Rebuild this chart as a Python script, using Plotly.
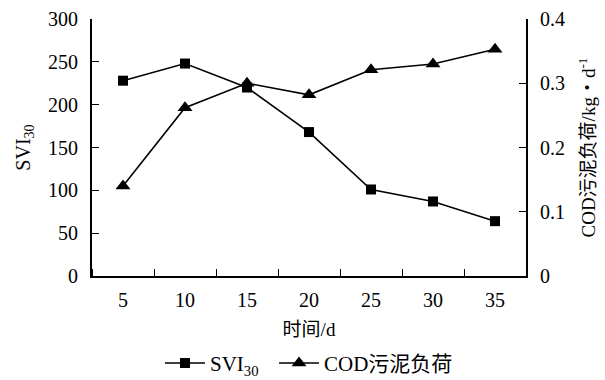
import plotly.graph_objects as go

# 运行时间 (d)
days = [5, 10, 15, 20, 25, 30, 35]
# 污泥体积指数 SVI30
svi30 = [228, 248, 220, 168, 101, 87, 64]
# COD污泥负荷 (kg·d^-1)
cod_load = [0.14, 0.262, 0.30, 0.282, 0.321, 0.330, 0.353]

left_ticks = [0, 50, 100, 150, 200, 250, 300]
right_ticks = [0, 0.1, 0.2, 0.3, 0.4]
right_labels = ["0", "0.1", "0.2", "0.3", "0.4"]

serif = "Liberation Serif, Times New Roman, Noto Sans CJK SC, serif"
cjk = "Liberation Serif, Noto Sans CJK SC, serif"
FS = 20

fig = go.Figure()
fig.add_trace(go.Scatter(
    x=days, y=svi30, name="SVI<sub>30</sub>\u00a0\u00a0", mode="lines+markers",
    line=dict(color="black", width=1.6),
    marker=dict(symbol="square", size=10, color="black"),
))
fig.add_trace(go.Scatter(
    x=days, y=cod_load, name="COD污泥负荷", mode="lines+markers", yaxis="y2",
    line=dict(color="black", width=1.6),
    marker=dict(symbol="triangle-up", size=13, color="black"),
))

fig.update_layout(
    width=605, height=380,
    margin=dict(l=92, r=79, t=19, b=104, autoexpand=False),
    paper_bgcolor="white", plot_bgcolor="white",
    font=dict(family=serif, size=FS, color="black"),
    showlegend=True,
    legend=dict(orientation="h", x=0.5, xanchor="center", y=-0.34, yanchor="middle",
                font=dict(family=cjk, size=21), itemwidth=40,
                bgcolor="rgba(0,0,0,0)"),
    xaxis=dict(
        range=[2.5, 37.5], tickvals=days, ticktext=[str(d) for d in days],
        ticks="", showline=True, linecolor="black", linewidth=2, showgrid=False,
        zeroline=False, mirror=False, automargin=False,
        minor=dict(tick0=2.5, dtick=5, ticks="inside", ticklen=7, tickwidth=1.3,
                   tickcolor="black", showgrid=False),
        title=dict(text="时间/d", font=dict(family=cjk, size=19), standoff=13),
        tickfont=dict(size=FS), ticklabelstandoff=5,
    ),
    yaxis=dict(
        range=[0, 300], tickvals=left_ticks, ticks="inside", ticklen=7, tickwidth=1.3,
        tickcolor="black", showline=True, linecolor="black", linewidth=2,
        showgrid=False, zeroline=False, automargin=False,
        title=dict(text="SVI<sub>30</sub>", font=dict(size=FS), standoff=12),
        tickfont=dict(size=FS), ticklabelstandoff=8,
    ),
    yaxis2=dict(
        range=[0, 0.4], tickvals=right_ticks, ticktext=right_labels,
        overlaying="y", side="right", ticks="inside", ticklen=7, tickwidth=1.3,
        tickcolor="black", showline=True, linecolor="black", linewidth=2,
        showgrid=False, zeroline=False, automargin=False,
        title=dict(text="COD污泥负荷/kg・d<sup>-1</sup>", font=dict(family=cjk, size=19),
                   standoff=18),
        tickfont=dict(size=FS), ticklabelstandoff=8,
    ),
)

fig.write_html("out.html")
